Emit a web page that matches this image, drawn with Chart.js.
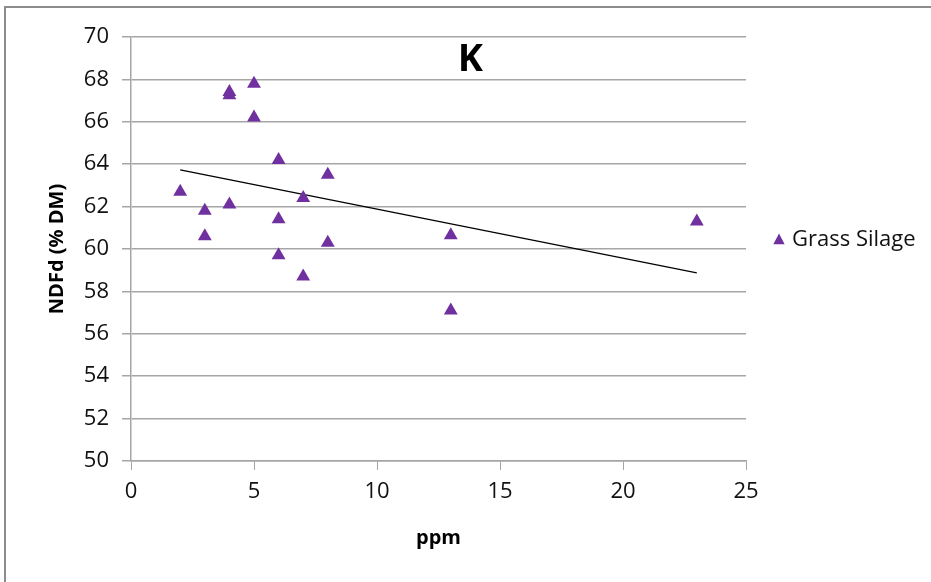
<!DOCTYPE html>
<html>
<head>
<meta charset="utf-8">
<script src="https://cdn.jsdelivr.net/npm/chart.js@4/dist/chart.umd.min.js"></script>
<style>
  body { margin: 0; background: #fff; }
  #wrap { position: relative; width: 931px; height: 582px; }
  #frame { position: absolute; left: 4px; top: 6px; right: -10px; bottom: -10px;
           border-left: 2px solid #8c8c8c; border-top: 2px solid #8c8c8c; }
  canvas { position: absolute; left: 0; top: 0; }
</style>
</head>
<body>
<div id="wrap">
  <div id="frame"></div>
  <canvas id="chart" width="931" height="582"></canvas>
</div>
<script>
// 讀圖估計的數值
const ppm = [2, 3, 3, 4, 4, 4, 5, 5, 6, 6, 6, 7, 7, 8, 8, 13, 13, 23];
const ndfd = [62.7, 61.8, 60.6, 67.25, 67.4, 62.1, 67.8, 66.2, 64.2, 61.4, 59.7, 62.4, 58.7, 63.5, 60.3, 60.65, 57.1, 61.3];
const trendX = [2, 23];
const trendY = [63.73, 58.87];
const xTicks = [0, 5, 10, 15, 20, 25];
const yTicks = [50, 52, 54, 56, 58, 60, 62, 64, 66, 68, 70];

const purple = '#7030A0';
const gridGray = '#a6a6a6';
const fontFam = "'Open Sans', sans-serif";

const points = ppm.map((x, i) => ({ x: x, y: ndfd[i] }));
const trend = trendX.map((x, i) => ({ x: x, y: trendY[i] }));

// 標題「K」和圖例
const extras = {
    id: 'extras',
    afterDraw(chart) {
        const ctx = chart.ctx;
        const xs = chart.scales.x, ys = chart.scales.y;
        ctx.save();
        ctx.fillStyle = '#000';
        ctx.font = "bold 38px " + fontFam;
        ctx.textAlign = 'center';
        ctx.textBaseline = 'middle';
        ctx.fillText('K', xs.getPixelForValue(13.8), ys.getPixelForValue(68.9));

        // 圖例
        const lx = 779, ly = 240, r = 6.5;
        ctx.fillStyle = purple;
        ctx.beginPath();
        ctx.moveTo(lx, ly - r);
        ctx.lineTo(lx + r * 0.87, ly + r / 2 + 1);
        ctx.lineTo(lx - r * 0.87, ly + r / 2 + 1);
        ctx.closePath();
        ctx.fill();
        ctx.fillStyle = '#111';
        ctx.font = "22px " + fontFam;
        ctx.textAlign = 'left';
        ctx.fillText(chart.data.datasets[0].label, 792, ly);
        ctx.restore();
    }
};

new Chart(document.getElementById('chart'), {
    type: 'scatter',
    data: {
        datasets: [
            {
                label: 'Grass Silage',
                data: points,
                pointStyle: 'triangle',
                pointRadius: 8,
                pointHoverRadius: 8,
                backgroundColor: purple,
                borderColor: purple,
                borderWidth: 0
            },
            {
                type: 'line',
                label: 'trend',
                data: trend,
                borderColor: '#000',
                borderWidth: 1.3,
                pointRadius: 0,
                fill: false
            }
        ]
    },
    options: {
        responsive: false,
        animation: false,
        layout: { padding: { top: 37, right: 185, bottom: 0, left: 0 } },
        plugins: { legend: { display: false }, tooltip: { enabled: false } },
        scales: {
            x: {
                type: 'linear',
                min: 0, max: 25,
                afterBuildTicks: s => { s.ticks = xTicks.map(v => ({ value: v })); },
                afterFit: s => { s.height = 121; },
                grid: { drawOnChartArea: false, drawTicks: true, tickLength: 9, color: gridGray },
                border: { color: gridGray, width: 1.5 },
                ticks: { color: '#111', font: { family: fontFam, size: 22 }, padding: 9, maxRotation: 0 },
                title: { display: true, text: 'ppm', color: '#000',
                         font: { family: fontFam, size: 20, weight: 'bold' }, padding: { bottom: 32 } }
            },
            y: {
                min: 50, max: 70,
                afterBuildTicks: s => { s.ticks = yTicks.map(v => ({ value: v })); },
                afterFit: s => { s.width = 131; },
                grid: { drawTicks: true, tickLength: 9, color: gridGray, lineWidth: 1.5 },
                border: { color: gridGray, width: 1.5 },
                ticks: { color: '#111', font: { family: fontFam, size: 22 }, padding: 13 },
                title: { display: true, text: 'NDFd (% DM)', color: '#000',
                         font: { family: fontFam, size: 20, weight: 'bold' }, padding: { top: 45 } }
            }
        }
    },
    plugins: [extras]
});
</script>
</body>
</html>
